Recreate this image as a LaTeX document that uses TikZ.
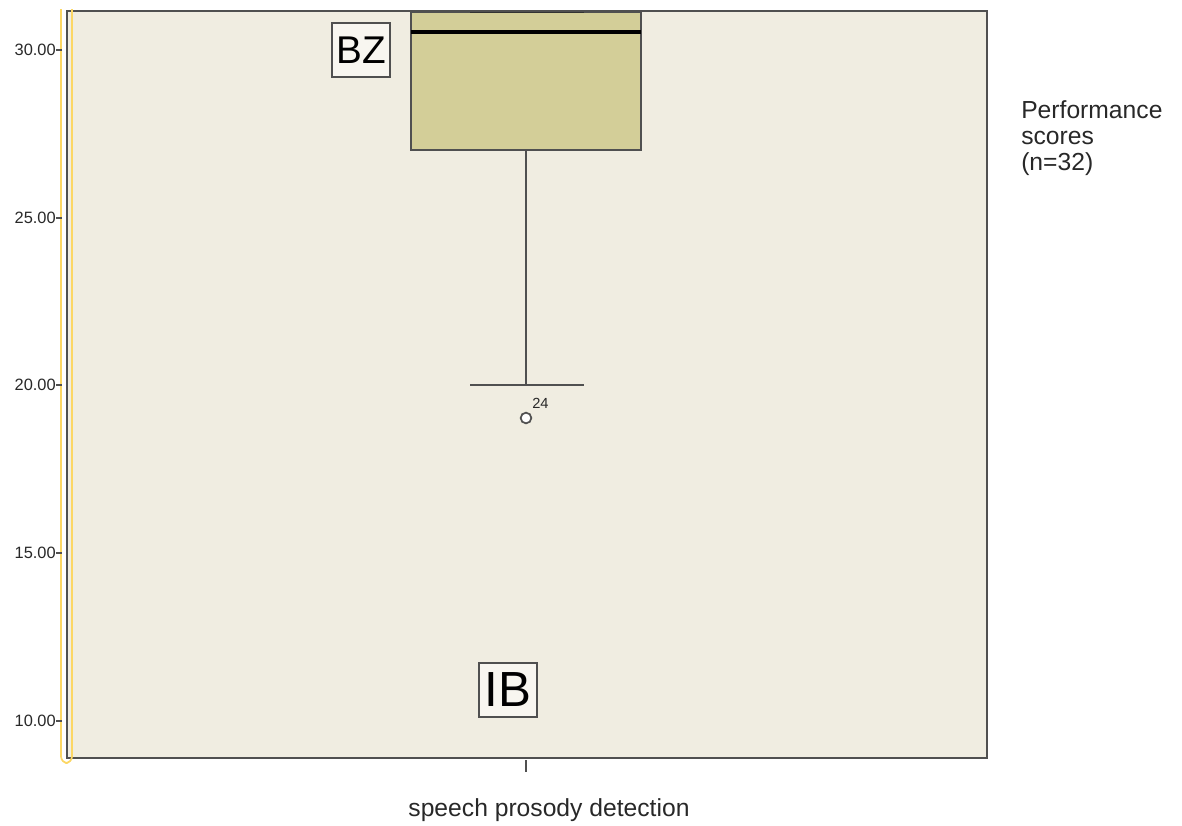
\documentclass[tikz,border=0pt]{standalone}
\usepackage{fontspec}
\setmainfont{Liberation Sans}
\definecolor{bgc}{RGB}{240,237,225}
\definecolor{boxc}{RGB}{211,206,152}
\definecolor{linec}{RGB}{80,80,80}
\definecolor{txtc}{RGB}{40,40,40}
\definecolor{yel}{RGB}{252,215,100}
\tikzset{
  ylab/.style={anchor=east,inner sep=0pt,text=txtc,font=\fontsize{12.3}{13}\selectfont},
  tagbox/.style={draw=linec,line width=1.5pt,fill=white!50!bgc,inner sep=0pt,minimum width=43.5pt,minimum height=41pt,text=black},
}
\begin{document}
\begin{tikzpicture}[x=0.75pt,y=-0.75pt]
\useasboundingbox (0,0) rectangle (1182,825);
% plot area
\fill[bgc] (67,11) rectangle (987,758);
% box
\filldraw[fill=boxc,draw=linec,line width=1.6pt] (411,12) rectangle (641,150);
\draw[black,line width=2.3pt] (411,32) -- (641,32);
\draw[black!80,line width=2pt] (470,12) -- (584,12);
% whisker
\draw[linec,line width=2pt] (526,150) -- (526,385);
\draw[linec,line width=2pt] (470,385) -- (584,385);
% outlier
\node[circle,draw=linec,fill=white,line width=1.3pt,minimum size=8pt,inner sep=0pt] (out) at (526,418) {};
\node[anchor=south west,inner sep=0pt,text=txtc,font=\fontsize{11}{12}\selectfont] (n24) at (532,409) {24};
% frame
\draw[linec,line width=1.8pt] (67,11) rectangle (987,758);
% yellow highlight
\draw[yel,line width=1.3pt,rounded corners=5] (61,9) -- (61,763) -- (72,763) -- (72,9);
% y ticks and labels
\foreach \v/\yy in {30.00/50,25.00/218,20.00/385,15.00/553,10.00/721}{
  \draw[linec,line width=1.2pt] (56,\yy) -- (62,\yy);
  \node[ylab] at (56,\yy) {\v};
}
% x tick
\draw[linec,line width=1.5pt] (526,760) -- (526,772);
% labels
\node[tagbox,font=\fontsize{29}{30}\selectfont] (bz) at (361,50) {BZ};
\node[tagbox,font=\fontsize{37}{38}\selectfont] (ib) at (508,690) {IB};
\node[anchor=center,text=txtc,font=\fontsize{18.5}{20}\selectfont] (xl) at (549,810) {speech prosody detection};
\node[anchor=north west,align=left,inner sep=0pt,text=txtc,font=\fontsize{18.5}{19.5}\selectfont] (leg) at (1021,100) {Performance\\scores\\(n=32)};
\end{tikzpicture}
\end{document}
